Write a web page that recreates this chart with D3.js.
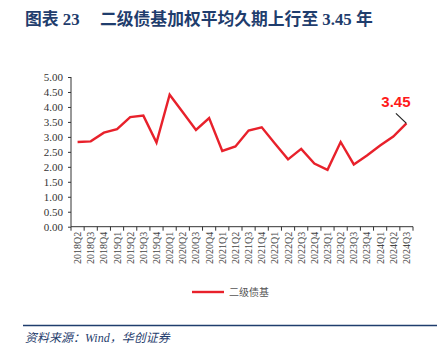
<!DOCTYPE html>
<html>
<head>
<meta charset="utf-8">
<script src="https://cdn.jsdelivr.net/npm/d3@7"></script>
<style>
  html, body { margin: 0; padding: 0; background: #fff; }
  svg { display: block; }
</style>
</head>
<body>
<svg id="chart" width="442" height="344"></svg>
<script>
// Quarterly weighted average duration of secondary bond funds (years)
const quarters = [
  "2018Q2","2018Q3","2018Q4",
  "2019Q1","2019Q2","2019Q3","2019Q4",
  "2020Q1","2020Q2","2020Q3","2020Q4",
  "2021Q1","2021Q2","2021Q3","2021Q4",
  "2022Q1","2022Q2","2022Q3","2022Q4",
  "2023Q1","2023Q2","2023Q3","2023Q4",
  "2024Q1","2024Q2","2024Q3"
];
const duration = [
  2.83, 2.85, 3.14,
  3.26, 3.66, 3.71, 2.81,
  4.41, 3.82, 3.23, 3.63,
  2.53, 2.68, 3.21, 3.32,
  2.78, 2.25, 2.60, 2.11,
  1.90, 2.83, 2.08, 2.38,
  2.71, 3.01, 3.45
];
const yTicks = [0, 0.5, 1, 1.5, 2, 2.5, 3, 3.5, 4, 4.5, 5];
const seriesName = "二级债基";
const lastLabel = "3.45";

const svg = d3.select("#chart");
const navy = "#1f3d6d";
const red = "#e8212b";

// Title
const title = svg.append("text")
  .attr("x", 25).attr("y", 25)
  .attr("fill", navy)
  .attr("font-family", "'Liberation Serif','Noto Sans CJK SC',serif")
  .attr("font-weight", "bold")
  .attr("font-size", 16.8);
title.append("tspan").text("图表 23");
title.append("tspan").attr("x", 100).text("二级债基加权平均久期上行至 3.45 年");

// Plot area
const plotLeft = 71, plotRight = 413, plotTop = 77, plotBottom = 226.7;

const x = d3.scaleBand().domain(quarters).range([plotLeft, plotRight]).padding(0);
const y = d3.scaleLinear().domain([0, 5]).range([plotBottom, plotTop]);

const serif = "'Liberation Serif','Times New Roman',serif";

// Y axis
const yAxis = svg.append("g")
  .attr("transform", `translate(${plotLeft},0)`)
  .call(d3.axisLeft(y).tickValues(yTicks).tickFormat(d3.format(".2f")).tickSize(3).tickPadding(5));
yAxis.select(".domain").attr("stroke", "#333").attr("d", `M0,${plotBottom}V${plotTop}`);
yAxis.selectAll(".tick line").attr("stroke", "#333");
yAxis.selectAll(".tick text")
  .attr("font-family", serif).attr("font-size", 11).attr("fill", "#333");

// X axis with ticks on category boundaries
const xAxis = svg.append("g")
  .attr("transform", `translate(0,${plotBottom})`);
xAxis.append("line")
  .attr("x1", plotLeft).attr("x2", plotRight)
  .attr("stroke", "#333");
const edges = quarters.map(q => x(q)).concat([plotRight]);
xAxis.selectAll("line.tk").data(edges).join("line")
  .attr("class", "tk")
  .attr("x1", d => d).attr("x2", d => d)
  .attr("y1", 0).attr("y2", 4)
  .attr("stroke", "#333");
xAxis.selectAll("text").data(quarters).join("text")
  .attr("transform", d => `translate(${x(d) + x.bandwidth() / 2 + 3.5},5) rotate(-90)`)
  .attr("text-anchor", "end")
  .attr("font-family", serif)
  .attr("font-size", 10)
  .attr("fill", "#444")
  .text(d => d);

// Line
const line = d3.line()
  .x((d, i) => x(quarters[i]) + x.bandwidth() / 2)
  .y(d => y(d));
svg.append("path")
  .datum(duration)
  .attr("d", line)
  .attr("fill", "none")
  .attr("stroke", red)
  .attr("stroke-width", 2.4)
  .attr("stroke-linejoin", "miter");

// Last value callout
const lastI = duration.length - 1;
const lx = x(quarters[lastI]) + x.bandwidth() / 2;
const ly = y(duration[lastI]);
svg.append("line")
  .attr("x1", lx - 10.5).attr("y1", ly - 10)
  .attr("x2", lx).attr("y2", ly)
  .attr("stroke", "#222").attr("stroke-width", 1.2);
svg.append("text")
  .attr("x", lx - 10.5).attr("y", ly - 16.5)
  .attr("text-anchor", "middle")
  .attr("font-family", "'Liberation Sans',Arial,sans-serif")
  .attr("font-weight", "bold")
  .attr("font-size", 15)
  .attr("fill", "#ff1a1a")
  .text(lastLabel);

// Legend
svg.append("line")
  .attr("x1", 192).attr("x2", 224)
  .attr("y1", 292).attr("y2", 292)
  .attr("stroke", red).attr("stroke-width", 2.4);
svg.append("text")
  .attr("x", 229).attr("y", 295.5)
  .attr("font-family", "'Noto Sans CJK SC',sans-serif")
  .attr("font-size", 10)
  .attr("fill", "#555")
  .text(seriesName);

// Footer rule and source
svg.append("line")
  .attr("x1", 23).attr("x2", 437)
  .attr("y1", 325.5).attr("y2", 325.5)
  .attr("stroke", navy).attr("stroke-width", 1.3);
svg.append("text")
  .attr("x", 25).attr("y", 342)
  .attr("font-family", "'Liberation Serif','Noto Sans CJK SC',serif")
  .attr("font-style", "italic")
  .attr("font-size", 12)
  .attr("fill", navy)
  .text("资料来源：Wind，华创证券");
</script>
</body>
</html>
